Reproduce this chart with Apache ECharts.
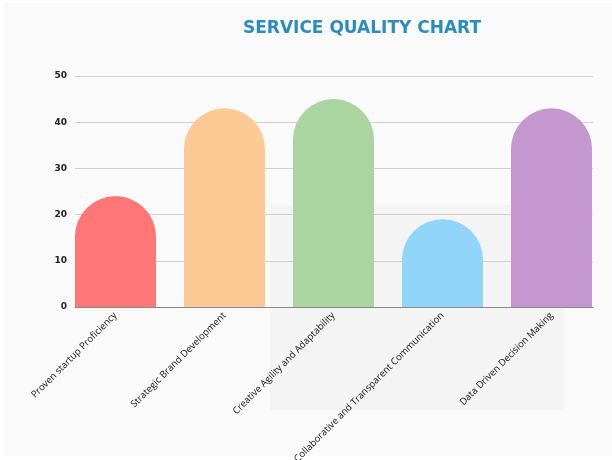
<!DOCTYPE html>
<html>
<head>
<meta charset="utf-8">
<script src="https://cdn.jsdelivr.net/npm/echarts@6/dist/echarts.min.js"></script>
<style>
html,body{margin:0;padding:0;background:#ffffff;}
#chart{width:612px;height:460px;}
</style>
</head>
<body>
<div id="chart"></div>
<script>
var categories = ["Proven startup Proficiency","Strategic Brand Development","Creative Agility and Adaptability","Collaborative and Transparent Communication","Data Driven Decision Making"];
var values = [24, 43, 45, 19, 43];
var colors = ["#ff7676", "#fdc994", "#aad5a1", "#91d6fa", "#c497ce"];
var yTicks = [0, 10, 20, 30, 40, 50];

var chart = echarts.init(document.getElementById('chart'), null, {renderer: 'canvas'});
var option = {
  backgroundColor: 'transparent',
  animation: false,
  graphic: [
    {type: 'rect', z: -10, silent: true, shape: {x: 4, y: 3, width: 608, height: 453}, style: {fill: '#fafafa'}},
    {type: 'rect', z: -9, silent: true, shape: {x: 270, y: 205, width: 294, height: 205}, style: {fill: '#f4f4f4'}}
  ],
  title: {
    text: 'SERVICE QUALITY CHART',
    left: 357, top: 15, textAlign: 'center',
    textStyle: {fontFamily: 'DejaVu Sans', fontWeight: 'bold', fontSize: 17, color: '#2a8dbd'}
  },
  grid: [
    {left: 75, right: 19, top: 76, bottom: 153, outerBoundsMode: 'none', containLabel: false},
    {left: 61, right: 6, top: 76, bottom: 153, outerBoundsMode: 'none', containLabel: false}
  ],
  xAxis: [
    {type: 'category', gridIndex: 0, data: categories,
     axisLine: {show: true, lineStyle: {color: '#888888', width: 1}},
     axisTick: {show: false}, axisLabel: {show: false}, splitLine: {show: false}},
    {type: 'category', gridIndex: 1, data: categories,
     axisLine: {show: false}, axisTick: {show: false},
     axisLabel: {rotate: 45, interval: 0, margin: 7, fontFamily: 'Open Sans', fontSize: 9.5, color: '#111111'}}
  ],
  yAxis: [
    {type: 'value', gridIndex: 0, min: yTicks[0], max: yTicks[yTicks.length-1], interval: 10,
     axisLine: {show: false}, axisTick: {show: false},
     axisLabel: {margin: 8, fontFamily: 'DejaVu Sans', fontWeight: 'bold', fontSize: 9, color: '#222222'},
     splitLine: {lineStyle: {color: '#d0d0d0', width: 1}}},
    {type: 'value', gridIndex: 1, min: yTicks[0], max: yTicks[yTicks.length-1], interval: 10, show: false,
     splitLine: {show: false}}
  ],
  series: [{
    type: 'bar', xAxisIndex: 1, yAxisIndex: 1,
    data: values.map(function(v, i){ return {value: v, itemStyle: {color: colors[i]}}; }),
    barWidth: 81,
    itemStyle: {borderRadius: [40.5, 40.5, 0, 0]}
  }]
};
chart.setOption(option);
</script>
</body>
</html>
